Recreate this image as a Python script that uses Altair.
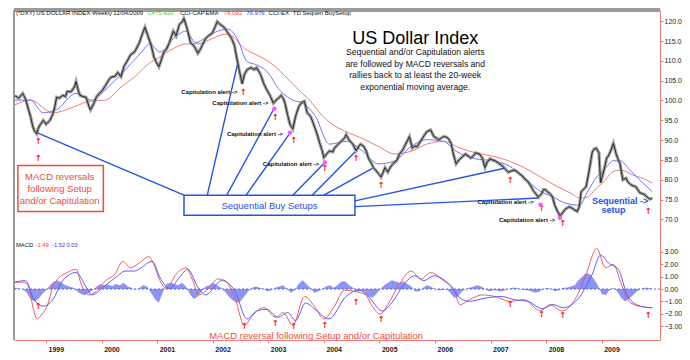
import altair as alt
import pandas as pd

FONT = "Liberation Sans"
XD = [1998.423, 2010.049]
PD = [39.58, 122.83]
MD = [-4.10, 22.46]
RED = "#ee4b3c"
BLUE = "#2453e8"

# weekly close path (decimal year, index value)
PRICE = [(1998.44, 101.2), (1998.51, 100.6), (1998.58, 101.8), (1998.63, 100.4), (1998.69, 97.4), (1998.72, 96.0),
         (1998.76, 93.5), (1998.79, 92.4), (1998.83, 91.6), (1998.86, 93.0), (1998.90, 94.0), (1998.95, 95.0),
         (1999.00, 94.0), (1999.07, 95.0), (1999.12, 96.5), (1999.16, 98.6), (1999.19, 100.8), (1999.24, 100.6),
         (1999.30, 101.3), (1999.35, 101.0), (1999.38, 102.3), (1999.45, 102.2), (1999.51, 103.4), (1999.54, 104.8),
         (1999.58, 102.5), (1999.61, 101.3), (1999.66, 101.0), (1999.72, 100.8), (1999.77, 98.6), (1999.80, 97.6),
         (1999.86, 99.3), (1999.91, 101.0), (1999.96, 101.8), (2000.01, 102.5), (2000.07, 103.8), (2000.12, 105.0),
         (2000.17, 105.9), (2000.24, 106.1), (2000.29, 107.1), (2000.35, 106.0), (2000.40, 108.5), (2000.47, 110.2),
         (2000.52, 111.5), (2000.59, 112.2), (2000.64, 113.5), (2000.68, 114.6), (2000.73, 116.7), (2000.78, 118.5),
         (2000.84, 116.0), (2000.89, 114.0), (2000.94, 111.0), (2000.99, 109.5), (2001.03, 108.5), (2001.08, 110.5),
         (2001.12, 112.2), (2001.17, 113.0), (2001.22, 114.6), (2001.29, 117.5), (2001.34, 116.3), (2001.40, 119.2),
         (2001.45, 119.8), (2001.48, 120.7), (2001.52, 119.0), (2001.55, 117.5), (2001.60, 114.6), (2001.66, 113.8),
         (2001.69, 113.1), (2001.73, 111.9), (2001.78, 113.0), (2001.81, 113.9), (2001.87, 115.6), (2001.92, 116.3),
         (2001.99, 117.0), (2002.04, 118.5), (2002.08, 119.9), (2002.13, 119.2), (2002.18, 118.7), (2002.22, 118.2),
         (2002.25, 117.5), (2002.30, 116.5), (2002.34, 115.6), (2002.39, 113.9), (2002.44, 110.2), (2002.48, 107.4),
         (2002.53, 104.2), (2002.57, 106.6), (2002.62, 107.8), (2002.69, 108.3), (2002.74, 107.8), (2002.79, 108.3),
         (2002.86, 106.6), (2002.92, 104.2), (2002.97, 102.8), (2003.04, 101.0), (2003.09, 99.3), (2003.14, 100.1),
         (2003.20, 100.8), (2003.23, 101.3), (2003.27, 100.5), (2003.30, 99.3), (2003.35, 96.2), (2003.39, 94.0),
         (2003.44, 92.8), (2003.49, 96.0), (2003.55, 98.5), (2003.60, 99.5), (2003.65, 99.8), (2003.70, 96.9),
         (2003.76, 96.0), (2003.79, 95.0), (2003.84, 93.0), (2003.88, 91.4), (2003.93, 89.0), (2003.97, 87.3),
         (2004.00, 85.6), (2004.05, 86.5), (2004.10, 87.3), (2004.16, 87.0), (2004.19, 88.0), (2004.26, 89.0),
         (2004.31, 89.7), (2004.37, 90.5), (2004.40, 91.4), (2004.45, 90.1), (2004.52, 89.0), (2004.58, 87.3),
         (2004.63, 88.5), (2004.66, 89.0), (2004.72, 88.4), (2004.77, 87.0), (2004.80, 85.5), (2004.86, 84.0),
         (2004.89, 83.1), (2004.94, 82.3), (2004.98, 81.6), (2005.03, 80.7), (2005.10, 83.1), (2005.15, 81.9),
         (2005.19, 83.0), (2005.24, 84.0), (2005.31, 84.8), (2005.36, 86.5), (2005.42, 87.5), (2005.45, 88.4),
         (2005.50, 89.8), (2005.54, 90.9), (2005.59, 88.0), (2005.64, 88.5), (2005.68, 88.4), (2005.73, 89.5),
         (2005.77, 90.4), (2005.82, 91.5), (2005.85, 92.1), (2005.92, 92.6), (2005.98, 90.9), (2006.03, 90.5),
         (2006.06, 90.1), (2006.12, 90.6), (2006.15, 90.9), (2006.20, 90.8), (2006.24, 90.4), (2006.29, 89.2),
         (2006.33, 86.5), (2006.38, 84.0), (2006.43, 85.0), (2006.47, 85.5), (2006.52, 86.2), (2006.55, 86.5),
         (2006.60, 86.0), (2006.64, 85.5), (2006.69, 86.0), (2006.73, 86.8), (2006.80, 86.5), (2006.85, 85.5),
         (2006.90, 83.1), (2006.94, 84.5), (2006.99, 85.3), (2007.04, 85.0), (2007.08, 84.8), (2007.13, 84.3),
         (2007.16, 84.0), (2007.22, 83.4), (2007.25, 82.9), (2007.29, 82.3), (2007.32, 81.9), (2007.37, 82.2),
         (2007.43, 82.4), (2007.48, 82.0), (2007.51, 81.6), (2007.57, 81.0), (2007.60, 80.4), (2007.65, 79.8),
         (2007.69, 79.2), (2007.74, 78.0), (2007.78, 77.0), (2007.83, 76.2), (2007.86, 75.6), (2007.92, 76.5),
         (2007.95, 77.5), (2007.99, 77.5), (2008.02, 77.0), (2008.07, 76.5), (2008.11, 75.8), (2008.16, 73.4),
         (2008.20, 72.2), (2008.25, 70.8), (2008.30, 71.8), (2008.34, 72.5), (2008.39, 73.0), (2008.42, 73.2),
         (2008.48, 72.7), (2008.51, 72.4), (2008.56, 72.0), (2008.60, 73.4), (2008.63, 77.0), (2008.69, 77.8),
         (2008.72, 78.3), (2008.77, 82.0), (2008.83, 87.0), (2008.86, 87.7), (2008.90, 88.0), (2008.95, 86.8),
         (2008.98, 79.2), (2009.04, 82.4), (2009.09, 85.5), (2009.12, 86.0), (2009.16, 87.2), (2009.21, 89.2),
         (2009.26, 86.5), (2009.30, 85.0), (2009.33, 84.0), (2009.38, 80.0), (2009.44, 80.4), (2009.47, 79.5),
         (2009.52, 78.8), (2009.56, 78.5), (2009.61, 78.3), (2009.65, 77.5), (2009.68, 76.8), (2009.73, 76.5),
         (2009.77, 76.3), (2009.82, 75.6), (2009.87, 75.1), (2009.91, 75.4)]

EMA_SLOW = [(1998.44, 98.9), (1998.72, 100.1), (1999.12, 96.9), (1999.54, 98.6), (1999.77, 99.8), (2000.07, 100.1),
            (2000.35, 103.4), (2000.59, 105.9), (2000.82, 109.0), (2001.05, 111.0), (2001.29, 113.1), (2001.52, 114.3),
            (2001.74, 114.3), (2001.99, 115.6), (2002.22, 116.7), (2002.34, 116.3), (2002.57, 113.1), (2002.79, 111.5),
            (2003.04, 109.5), (2003.27, 106.6), (2003.49, 103.4), (2003.74, 100.1), (2003.97, 96.2), (2004.10, 94.5),
            (2004.40, 92.1), (2004.70, 90.4), (2004.98, 88.4), (2005.28, 86.5), (2005.57, 87.2), (2005.85, 89.0),
            (2006.15, 89.7), (2006.45, 88.0), (2006.73, 86.8), (2007.02, 86.0), (2007.32, 84.8), (2007.60, 83.1),
            (2007.90, 80.7), (2008.20, 78.3), (2008.46, 76.5), (2008.60, 75.4), (2008.74, 75.6), (2008.91, 78.0),
            (2009.04, 79.5), (2009.16, 81.6), (2009.30, 82.4), (2009.42, 82.2), (2009.56, 81.2), (2009.73, 80.4),
            (2009.91, 79.2)]

EMA_FAST = [(1998.44, 100.1), (1998.72, 100.1), (1998.95, 96.9), (1999.19, 97.7), (1999.54, 101.8), (1999.82, 100.1),
            (2000.12, 103.4), (2000.35, 106.6), (2000.70, 111.9), (2000.87, 114.3), (2001.05, 112.2), (2001.29, 115.6),
            (2001.52, 117.5), (2001.69, 114.6), (2001.87, 115.8), (2002.09, 117.5), (2002.27, 118.0), (2002.44, 115.6),
            (2002.62, 109.8), (2002.79, 109.0), (2002.97, 107.4), (2003.21, 102.5), (2003.44, 100.1), (2003.62, 99.3),
            (2003.84, 96.2), (2004.10, 89.0), (2004.40, 89.7), (2004.70, 87.2), (2004.98, 84.0), (2005.28, 84.8),
            (2005.57, 88.4), (2005.85, 90.1), (2006.15, 89.7), (2006.38, 87.2), (2006.73, 85.3), (2007.02, 84.8),
            (2007.32, 83.6), (2007.60, 80.7), (2007.85, 77.5), (2008.13, 75.6), (2008.37, 74.0), (2008.60, 73.6),
            (2008.74, 76.8), (2008.91, 80.7), (2009.04, 82.4), (2009.21, 84.8), (2009.33, 84.8), (2009.51, 82.4),
            (2009.68, 80.0), (2009.91, 77.0)]

MACD = [(1998.44, 0.55), (1998.60, 0.55), (1998.69, 0.17), (1998.76, -1.38), (1998.84, -2.4), (1998.93, -2.0),
        (1999.02, -1.38), (1999.12, 0.17), (1999.24, 0.94), (1999.38, 1.33), (1999.54, 1.59), (1999.63, 0.43),
        (1999.77, -0.47), (1999.89, -0.22), (2000.07, 0.68), (2000.24, 1.2), (2000.38, 2.23), (2000.52, 1.71),
        (2000.68, 2.1), (2000.85, 2.61), (2000.94, 1.97), (2001.05, 0.68), (2001.17, 0.04), (2001.34, 1.2),
        (2001.52, 1.71), (2001.64, 0.68), (2001.75, -0.47), (2001.92, 0.04), (2002.09, 0.81), (2002.22, 0.68),
        (2002.39, -0.6), (2002.57, -2.92), (2002.71, -2.15), (2002.92, -1.5), (2003.13, -2.27), (2003.27, -1.89),
        (2003.44, -2.92), (2003.65, -0.6), (2003.83, -1.38), (2004.00, -2.4), (2004.19, -1.38), (2004.37, -0.09),
        (2004.58, -0.22), (2004.75, -0.47), (2004.87, -1.38), (2005.01, -2.02), (2005.15, -1.25), (2005.33, 0.17),
        (2005.57, 1.45), (2005.75, 0.81), (2005.92, 1.33), (2006.15, 0.68), (2006.33, 0.04), (2006.45, -1.25),
        (2006.62, -0.86), (2006.85, -0.47), (2007.08, -0.6), (2007.34, -0.99), (2007.60, -0.86), (2007.90, -1.76),
        (2008.07, -1.25), (2008.28, -1.76), (2008.55, -0.6), (2008.72, 1.2), (2008.91, 3.26), (2009.07, 1.71),
        (2009.21, 1.97), (2009.35, 0.43), (2009.52, -1.12), (2009.77, -1.45), (2009.91, -1.49)]

SIGNAL = [(1998.44, 0.55), (1998.63, 0.68), (1998.77, -0.73), (1998.95, -1.38), (1999.12, -0.86), (1999.30, 0.68),
          (1999.54, 1.33), (1999.72, 0.17), (1999.82, -0.47), (2000.07, 0.3), (2000.29, 1.07), (2000.42, 1.45),
          (2000.59, 1.45), (2000.91, 2.23), (2001.05, 0.94), (2001.22, 0.04), (2001.40, 0.94), (2001.55, 1.59),
          (2001.73, 0.17), (2001.87, -0.47), (2002.16, 0.68), (2002.39, -0.09), (2002.62, -2.4), (2002.79, -1.76),
          (2002.97, -1.63), (2003.18, -2.27), (2003.35, -1.89), (2003.49, -2.53), (2003.67, -1.12), (2003.84, -1.63),
          (2004.09, -2.4), (2004.40, -0.6), (2004.63, -0.09), (2004.80, -0.6), (2005.05, -1.76), (2005.22, -1.12),
          (2005.45, 0.43), (2005.63, 1.07), (2005.80, 0.68), (2005.98, 1.07), (2006.27, 0.3), (2006.45, -0.73),
          (2006.62, -0.99), (2006.90, -0.73), (2007.20, -0.6), (2007.43, -0.86), (2007.67, -0.99), (2007.93, -1.58),
          (2008.13, -1.25), (2008.30, -1.5), (2008.56, -0.86), (2008.83, 1.2), (2008.98, 2.74), (2009.12, 2.1),
          (2009.30, 1.59), (2009.47, -0.6), (2009.70, -1.38), (2009.91, -1.52)]

# histogram read at a regular sampling grid
HIST_START = 1998.441
HIST_STEP = 0.06993
HIST = [0.1, 0.05, 0.0, -0.3, -0.8, -1.0, -0.8, -0.4, -0.1, 0.3, 0.6, 0.68, 0.5, 0.3, 0.2, 0.1, -0.2, -0.4, -0.5,
        -0.3, -0.1, 0.2, 0.4, 0.3, 0.35, 0.25, 0.4, 0.3, 0.5, 0.2, 0.1, -0.1, 0.1, 0.3, 0.2, -0.3, -0.8, -1.1, -0.3,
        0.4, 0.5, 0.4, 0.3, 0.5, 0.2, -0.4, -0.8, -0.6, -0.2, 0.2, 0.3, 0.5, 0.3, 0.1, -0.2, -0.6, -0.9, -1.1, -1.0,
        -0.6, -0.2, 0.1, 0.2, 0.1, 0.0, -0.2, -0.1, 0.1, 0.2, 0.3, 0.0, -0.3, -0.1, 0.4, 0.7, 0.4, 0.1, -0.3, -0.2,
        0.0, 0.2, 0.3, 0.1, 0.3, 0.6,
        0.6, 0.3, 0.1, -0.2, -0.1, -0.3, -0.6, -0.7, -0.4, 0.0, 0.3, 0.5, 0.7, 0.6, 0.5, 0.6, 0.4, 0.2, -0.2, -0.2,
        0.1, 0.3, 0.2, 0.0, -0.1, -0.1, 0.0, -0.3, -0.7, -0.6, -0.2, 0.0, 0.1, 0.2, 0.3, 0.2, 0.0, -0.2, -0.1, -0.1,
        -0.2, -0.1, 0.0, 0.1, 0.1, 0.0, -0.1, -0.1, -0.2, -0.3, -0.2, 0.0, 0.1, 0.0, -0.2, -0.1, 0.1, 0.1, 0.2, 0.3,
        0.7, 1.0, 1.3, 1.2, 0.8, 0.3, -0.4, -0.5, -0.1, 0.1, -0.2, -0.7, -1.0, -0.8, -0.5, -0.2, 0.0, 0.1, 0.1, 0.03]

# annotations
HEADER = [(1998.423, "(*DXY) US DOLLAR INDEX-Weekly", "#111111"), (2000.171, "12/04/2009", "#111111"),
          (2000.783, "C=75.420", "#33cc33"), (2001.378, "CCI-CAP", "#111111"), (2001.832, "EMA", "#111111"),
          (2002.164, "78.092", "#ff3333"), (2002.566, "76.976", "#3333ff"), (2002.969, "CCI-EX", "#111111"),
          (2003.405, "TD Sequen BuySetup", "#111111")]
HEADER_P = 122.1
MACD_LABEL = [(1998.423, "MACD", "#111111"), (1998.773, "-1.49", "#ff3333"), (1999.070, "-1.52", "#3333ff"),
              (1999.332, "0.03", "#3333ff")]
MACD_LABEL_M = 3.56
TITLE = ("US Dollar Index", 2005.643, 115.5)
SUBTITLE = [("Sequential and/or Capitulation alerts", 112.26), ("are followed by MACD reversals and", 109.28),
            ("rallies back to at least the 20-week", 106.37), ("exponential moving average.", 103.40)]
SUB_T = 2005.643
CAPS = [(2002.444, 102.26), (2003.004, 99.36), (2003.266, 91.61), (2003.913, 83.87), (2007.776, 74.43),
        (2008.161, 69.83)]
ARROWS_TOP = [(1998.860, 89.68), (1998.860, 85.56), (2002.549, 102.26), (2003.126, 95.73), (2003.458, 89.92),
              (2004.018, 82.90), (2004.577, 85.56), (2005.031, 78.78), (2007.357, 80.0), (2007.916, 72.98),
              (2008.301, 69.10), (2009.839, 72.01)]
DOTS = [(2003.108, 97.90), (2003.388, 91.85), (2004.018, 84.35), (2007.899, 73.70), (2008.248, 70.41)]
SETUP_LINES = [(2001.4825, 76.12, 1998.843, 91.85), (2001.902, 76.12, 2002.444, 109.04),
               (2002.252, 76.12, 2003.091, 97.66), (2002.601, 76.12, 2003.371, 91.37),
               (2003.441, 76.12, 2004.018, 84.35), (2003.790, 76.12, 2004.559, 87.01),
               (2004.000, 76.12, 2004.874, 82.90), (2004.559, 74.67, 2007.252, 82.90),
               (2004.559, 73.22, 2007.864, 75.40)]
BLUE_BOX = (2001.4825, 76.12, 2004.559, 71.04)
BLUE_BOX_TEXT = ("Sequential Buy Setups", 2003.021, 73.46)
RED_BOX = (1998.493, 83.63, 2000.031, 72.01)
RED_BOX_TEXT = [("MACD reversals", 80.79), ("following Setup", 77.57), ("and/or Capitulation", 74.60)]
RED_BOX_T = 1999.245
SEQ_TEXT = [("Sequential ->", 2009.332, 74.67), ("setup", 2009.210, 72.25)]
ARROWS_MACD = [(1998.860, -1.40), (2002.566, -2.95), (2003.126, -2.70), (2003.458, -2.95), (2004.018, -2.90),
               (2004.577, -1.01), (2005.031, -2.41), (2007.357, -1.17), (2007.916, -2.02), (2008.301, -2.10),
               (2009.839, -2.10)]
MACD_NOTE = ("MACD reversal following Setup and/or Capitulation", 2003.860, -3.80)

YEARS = list(range(1999, 2010))
PRICE_TICKS = [70, 75, 80, 85, 90, 95, 100, 105, 110, 115, 120]
MACD_TICKS = [-3, -2, -1, 0, 1, 2, 3]

AXRED = "#ec7b7b"
XAX = alt.Axis(values=YEARS, format="d", labelAlign="left", labelOffset=2, labelPadding=2, labelFontSize=7,
               labelFont=FONT, labelColor="#222222", labelFontWeight="bold", tickColor=AXRED, tickSize=3,
               domainColor=AXRED, grid=False, title=None, labelOverlap=False, labelFlush=False)
PAX = alt.Axis(orient="right", values=PRICE_TICKS, format=".1f", labelFontSize=7, labelFont=FONT,
               labelColor="#222222", tickColor=AXRED, tickSize=3, domainColor=AXRED, grid=False, title=None,
               labelPadding=1, labelFlush=False)
MAX = alt.Axis(orient="right", values=MACD_TICKS, format=".2f", labelFontSize=7, labelFont=FONT,
               labelColor="#222222", tickColor=AXRED, tickSize=3, domain=False, grid=False, title=None,
               labelPadding=1, labelFlush=False)


def xq(f):
    return alt.X(f, type="quantitative", scale=alt.Scale(domain=XD, nice=False, zero=False), axis=XAX)


def yp(f):
    return alt.Y(f, type="quantitative", scale=alt.Scale(domain=PD, nice=False, zero=False), axis=PAX)


def ym(f):
    return alt.Y(f, type="quantitative", scale=alt.Scale(domain=MD, nice=False, zero=False), axis=MAX)


def df(rows, cols):
    return pd.DataFrame(rows, columns=cols)


# ---------- price panel ----------
price_df = df(PRICE, ["t", "v"])
price_band = alt.Chart(price_df).mark_line(color="#8a8a8a", strokeWidth=3.2, opacity=0.8).encode(x=xq("t"), y=yp("v"))
price_line = alt.Chart(price_df).mark_line(color="#2a2a2a", strokeWidth=1).encode(x=xq("t"), y=yp("v"))
slow_line = alt.Chart(df(EMA_SLOW, ["t", "v"])).mark_line(color="#f07a7a", strokeWidth=1, interpolate="monotone").encode(x=xq("t"), y=yp("v"))
fast_line = alt.Chart(df(EMA_FAST, ["t", "v"])).mark_line(color="#6f73ff", strokeWidth=1, interpolate="monotone").encode(x=xq("t"), y=yp("v"))

frame_top = alt.Chart(df([(PD[1],)], ["p"])).mark_rule(color="#9a9a9a", strokeWidth=4).encode(y=yp("p"))
frame_left = alt.Chart(df([(XD[0],)], ["t"])).mark_rule(color="#9a9a9a", strokeWidth=2).encode(x=xq("t"))

header = alt.Chart(df(HEADER, ["t", "label", "c"]).assign(p=HEADER_P)).mark_text(
    align="left", baseline="middle", font=FONT, fontSize=6, dx=2).encode(
    x=xq("t"), y=yp("p"), text="label:N", color=alt.Color("c:N", scale=None))

title = alt.Chart(df([TITLE], ["label", "t", "p"])).mark_text(
    align="center", baseline="middle", font=FONT, fontSize=18, color="#000000").encode(
    x=xq("t"), y=yp("p"), text="label:N")
subtitle = alt.Chart(df(SUBTITLE, ["label", "p"]).assign(t=SUB_T)).mark_text(
    align="center", baseline="middle", font=FONT, fontSize=8.6, color="#111111").encode(
    x=xq("t"), y=yp("p"), text="label:N")

setup_lines = alt.Chart(df(SETUP_LINES, ["t", "p", "t2", "p2"])).mark_rule(color=BLUE, strokeWidth=1.4).encode(
    x=xq("t"), y=yp("p"), x2="t2:Q", y2="p2:Q")
blue_box = alt.Chart(df([BLUE_BOX], ["t", "p", "t2", "p2"])).mark_rect(
    fill="#ffffff", stroke=BLUE, strokeWidth=1.5).encode(x=xq("t"), y=yp("p"), x2="t2:Q", y2="p2:Q")
blue_box_text = alt.Chart(df([BLUE_BOX_TEXT], ["label", "t", "p"])).mark_text(
    align="center", baseline="middle", font=FONT, fontSize=9.5, color=BLUE).encode(
    x=xq("t"), y=yp("p"), text="label:N")
red_box = alt.Chart(df([RED_BOX], ["t", "p", "t2", "p2"])).mark_rect(
    fill="#ffffff", stroke=RED, strokeWidth=1.5).encode(x=xq("t"), y=yp("p"), x2="t2:Q", y2="p2:Q")
red_box_text = alt.Chart(df(RED_BOX_TEXT, ["label", "p"]).assign(t=RED_BOX_T)).mark_text(
    align="center", baseline="middle", font=FONT, fontSize=9.5, color=RED).encode(
    x=xq("t"), y=yp("p"), text="label:N")

caps = alt.Chart(df(CAPS, ["t", "p"]).assign(label="Capitulation alert ->")).mark_text(
    align="right", baseline="middle", font=FONT, fontSize=6, fontWeight="bold", color="#111111").encode(
    x=xq("t"), y=yp("p"), text="label:N")
arrows_top = alt.Chart(df(ARROWS_TOP, ["t", "p"]).assign(label="\u2191")).mark_text(
    align="center", baseline="middle", font="DejaVu Sans", fontSize=8.5, fontWeight="bold", color="#ff2020").encode(
    x=xq("t"), y=yp("p"), text="label:N")
dots = alt.Chart(df(DOTS, ["t", "p"])).mark_point(filled=True, size=20, color="#ff55ff", opacity=1).encode(
    x=xq("t"), y=yp("p"))
seq_text = alt.Chart(df(SEQ_TEXT, ["label", "t", "p"])).mark_text(
    align="center", baseline="middle", font=FONT, fontSize=9, fontWeight="bold", color=BLUE).encode(
    x=xq("t"), y=yp("p"), text="label:N")

price_group = alt.layer(frame_top, frame_left, slow_line, fast_line, price_band, price_line, setup_lines, blue_box,
                        blue_box_text, red_box, red_box_text, header, title, subtitle, caps, arrows_top, dots,
                        seq_text)

# ---------- MACD panel ----------
hist_df = pd.DataFrame({"t": [HIST_START + HIST_STEP * i for i in range(len(HIST))], "v": HIST})
hist = alt.Chart(hist_df).mark_area(color="#8088f5", opacity=0.9).encode(
    x=xq("t"), y=ym("v"), y2=alt.Y2(datum=0))
zero = alt.Chart(df([(0.0,)], ["m"])).mark_rule(color="#5a62f0", strokeWidth=1, strokeDash=[2, 2]).encode(y=ym("m"))
macd_line = alt.Chart(df(MACD, ["t", "v"])).mark_line(color="#f05a5a", strokeWidth=1, interpolate="monotone").encode(x=xq("t"), y=ym("v"))
sig_line = alt.Chart(df(SIGNAL, ["t", "v"])).mark_line(color="#5a5cff", strokeWidth=1, interpolate="monotone").encode(x=xq("t"), y=ym("v"))
macd_label = alt.Chart(df(MACD_LABEL, ["t", "label", "c"]).assign(m=MACD_LABEL_M)).mark_text(
    align="left", baseline="middle", font=FONT, fontSize=5.8, dx=2).encode(
    x=xq("t"), y=ym("m"), text="label:N", color=alt.Color("c:N", scale=None))
arrows_macd = alt.Chart(df(ARROWS_MACD, ["t", "m"]).assign(label="\u2191")).mark_text(
    align="center", baseline="middle", font="DejaVu Sans", fontSize=8.5, fontWeight="bold", color="#ff2020").encode(
    x=xq("t"), y=ym("m"), text="label:N")
macd_note = alt.Chart(df([MACD_NOTE], ["label", "t", "m"])).mark_text(
    align="center", baseline="middle", font=FONT, fontSize=9.5, color=RED).encode(
    x=xq("t"), y=ym("m"), text="label:N")

macd_group = alt.layer(hist, zero, macd_line, sig_line, macd_label, arrows_macd, macd_note)

chart = alt.layer(price_group, macd_group).resolve_scale(y="independent").properties(
    width=674, height=344, padding={"left": 0, "top": 0, "right": 0, "bottom": 0},
    autosize=alt.AutoSizeParams(type="fit", contains="padding"), background="#ffffff"
).configure_view(strokeWidth=0)

chart.save("out.html", embed_options={"renderer": "svg", "actions": False})
